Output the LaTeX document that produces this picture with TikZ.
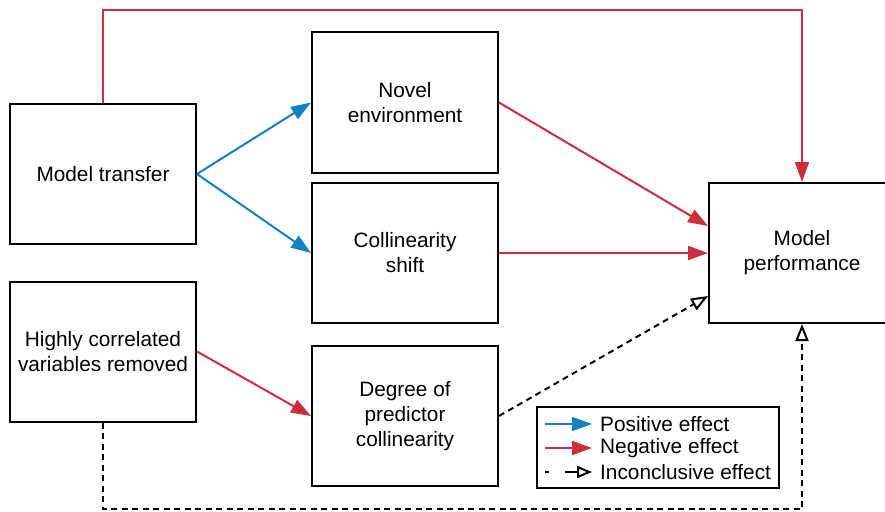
\documentclass[tikz,border=0pt]{standalone}
\usepackage{fontspec}
\setmainfont{Liberation Sans}
\usetikzlibrary{arrows.meta}
\definecolor{posblue}{HTML}{1480C0}
\definecolor{negred}{HTML}{CC2E3E}
\begin{document}
\begin{tikzpicture}[x=1pt,y=-1pt,
  box/.style={draw=black,line width=2pt,minimum width=186pt,minimum height=140pt,align=center,inner sep=0pt,font=\fontsize{20.8}{25}\selectfont},
  posarrow/.style={draw=posblue,line width=2pt,-{Triangle[length=20pt,width=14pt]}},
  negarrow/.style={draw=negred,line width=2pt,-{Triangle[length=20pt,width=14pt]}},
  incarrow/.style={draw=black,line width=2pt,dash pattern=on 6pt off 4.5pt,-{Triangle[open,length=17pt,width=13pt,line width=2pt]}},
  legtext/.style={anchor=west,inner sep=0pt,font=\fontsize{20.8}{25}\selectfont}]
\useasboundingbox (0,0) rectangle (885,511);
\node[box] (mt) at (103,174) {Model transfer};
\node[box] (hc) at (103,351.5) {Highly correlated\\variables removed};
\node[box] (ne) at (405,102.5) {Novel\\environment};
\node[box] (cs) at (405,253) {Collinearity\\shift};
\node[box] (dp) at (405,416) {Degree of\\predictor\\collinearity};
\node[box] (mp) at (802,253) {Model\\performance};
% connectors
\draw[negarrow] (mt.north) -- (mt.north |- 0,10) -| (mp.north);
\draw[posarrow] (mt.east) -- (ne.west);
\draw[posarrow] (mt.east) -- (cs.west);
\draw[negarrow] (ne.east) -- ([yshift=27pt]mp.west);
\draw[negarrow] (cs.east) -- (mp.west);
\draw[negarrow] (hc.east) -- (dp.west);
\draw[incarrow] (dp.east) -- ([yshift=-43pt]mp.west);
\draw[incarrow] (hc.south) -- (hc.south |- 0,509) -| (mp.south);
% legend
\node[draw=black,line width=2pt,minimum width=242pt,minimum height=81pt,inner sep=0pt] (leg) at (658,447.5) {};
\coordinate (l1a) at (545,424); \coordinate (l1b) at (592,424);
\coordinate (l2a) at (545,448); \coordinate (l2b) at (592,448);
\coordinate (l3a) at (545,472); \coordinate (l3b) at (592,472);
\draw[posarrow] (l1a) -- (l1b);
\draw[negarrow] (l2a) -- (l2b);
\draw[incarrow,dash pattern=on 4pt off 16pt on 40pt off 1pt,-{Triangle[open,length=15pt,width=12pt,line width=2pt]}] (l3a) -- (l3b);
\node[legtext] (t1) at (600,424) {Positive effect};
\node[legtext] (t2) at (600,448) {Negative effect};
\node[legtext] (t3) at (600,472) {Inconclusive effect};
\end{tikzpicture}
\end{document}
